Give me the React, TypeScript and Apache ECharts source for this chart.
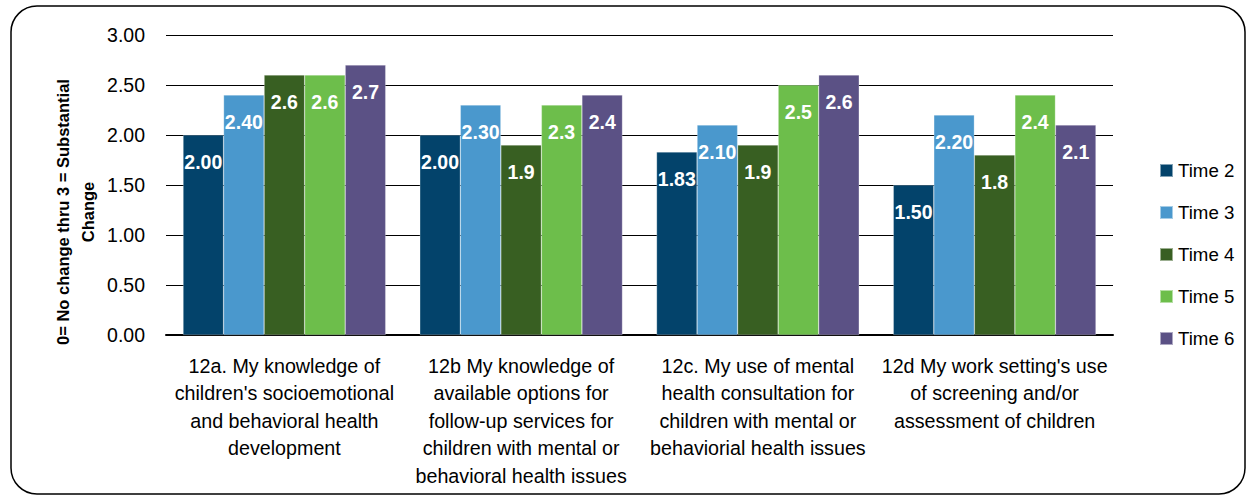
import React, { useEffect, useRef } from "react";
import * as echarts from "echarts";

const categories = [
  "12a. My knowledge of\nchildren's socioemotional\nand behavioral health\ndevelopment",
  "12b My knowledge of\navailable options for\nfollow-up services for\nchildren with mental or\nbehavioral health issues",
  "12c. My use of mental\nhealth consultation for\nchildren with mental or\nbehaviorial health issues",
  "12d My work setting's use\nof screening and/or\nassessment of children",
];
const seriesNames = ["Time 2", "Time 3", "Time 4", "Time 5", "Time 6"];
const time2 = [2.0, 2.0, 1.83, 1.5];
const time3 = [2.4, 2.3, 2.1, 2.2];
const time4 = [2.6, 1.9, 1.9, 1.8];
const time5 = [2.6, 2.3, 2.5, 2.4];
const time6 = [2.7, 2.4, 2.6, 2.1];
const labelDecimals = [2, 2, 1, 1, 1];
const colors = ["#03436B", "#4A98CD", "#385F22", "#6DBE4B", "#5B5185"];
const yTitle = "0= No change thru 3 = Substantial\nChange";

const FONT = "'Liberation Sans', Arial, sans-serif";

export default function App() {
  const ref = useRef<HTMLDivElement>(null);
  useEffect(() => {
    if (!ref.current) return;
    const chart = echarts.init(ref.current, null, { renderer: "svg" });
    const allData = [time2, time3, time4, time5, time6];
    chart.setOption({
      animation: false,
      backgroundColor: "#fff",
      textStyle: { fontFamily: FONT },
      grid: { left: 166, right: 143, top: 35, bottom: 169 },
      legend: {
        orient: "vertical",
        left: 1154,
        top: 154,
        itemWidth: 13,
        itemHeight: 13,
        itemGap: 19,
        icon: "rect",
        textStyle: { fontFamily: FONT, fontSize: 18.7, color: "#000", lineHeight: 23 },
        data: seriesNames,
      },
      xAxis: {
        type: "category",
        data: categories,
        axisLine: { lineStyle: { color: "#000", width: 2 } },
        axisTick: { show: false },
        axisLabel: {
          interval: 0,
          color: "#000",
          fontFamily: FONT,
          fontSize: 19.7,
          lineHeight: 27.5,
          margin: 17,
          align: "center",
        },
      },
      yAxis: {
        type: "value",
        min: 0,
        max: 3,
        interval: 0.5,
        axisLine: { show: false },
        axisTick: { show: false },
        splitLine: { lineStyle: { color: "#000", width: 1 } },
        axisLabel: {
          color: "#000",
          fontFamily: FONT,
          fontSize: 19.5,
          margin: 21,
          formatter: (v: number) => v.toFixed(2),
        },
      },
      graphic: [
        {
          type: "rect",
          shape: { x: 11, y: 6, width: 1234, height: 488, r: 26 },
          style: { fill: "none", stroke: "#000", lineWidth: 1.5 },
          z: 100,
        },
        {
          type: "text",
          x: 75,
          y: 212,
          rotation: Math.PI / 2,
          style: {
            text: yTitle,
            fontFamily: FONT,
            fontWeight: "bold",
            fontSize: 16.5,
            lineHeight: 25,
            fill: "#000",
            align: "center",
            verticalAlign: "middle",
          },
        },
      ],
      series: seriesNames.map((name, i) => ({
        name,
        type: "bar",
        data: allData[i],
        barGap: "0%",
        barCategoryGap: "14.4%",
        itemStyle: { color: colors[i], borderColor: "rgba(255,255,255,0.5)", borderWidth: 0.5 },
        label: {
          show: true,
          position: "insideTop",
          distance: 17,
          color: "#fff",
          fontFamily: FONT,
          fontWeight: "bold",
          fontSize: 19.5,
          formatter: (p: any) => Number(p.value).toFixed(labelDecimals[i]),
        },
      })),
    });
    return () => chart.dispose();
  }, []);
  return (
    <div
      ref={ref}
      style={{ position: "fixed", left: 0, top: 0, width: 1256, height: 504 }}
    />
  );
}
